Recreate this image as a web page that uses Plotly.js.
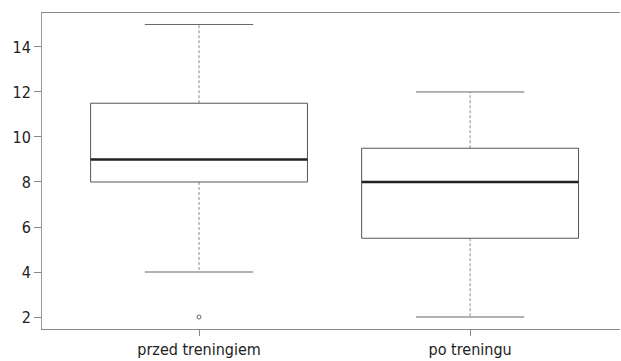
<!DOCTYPE html>
<html>
<head>
<meta charset="utf-8">
<script src="https://cdn.plot.ly/plotly-3.0.1.min.js"></script>
<style>html,body{margin:0;padding:0;background:#fff;}#chart{width:621px;height:361px;}</style>
</head>
<body>
<div id="chart"></div>
<script>
// Data
var categories = ['przed treningiem', 'po treningu'];
var lowerWhisker = [4, 2];
var q1 = [8, 5.5];
var median = [9, 8];
var q3 = [11.5, 9.5];
var upperWhisker = [15, 12];
var outliers = [[2], []];
var yTicks = [2, 4, 6, 8, 10, 12, 14];

var half = 0.4, capHalf = 0.2;
var positions = categories.map(function (c, i) { return i + 1; });

var boxX = [], boxY = [], medX = [], medY = [], whX = [], whY = [], capX = [], capY = [], outX = [], outY = [];
positions.forEach(function (p, i) {
  boxX.push(p - half, p + half, p + half, p - half, p - half, null);
  boxY.push(q1[i], q1[i], q3[i], q3[i], q1[i], null);
  medX.push(p - half, p + half, null);
  medY.push(median[i], median[i], null);
  whX.push(p, p, null, p, p, null);
  whY.push(q3[i], upperWhisker[i], null, q1[i], lowerWhisker[i], null);
  capX.push(p - capHalf, p + capHalf, null, p - capHalf, p + capHalf, null);
  capY.push(upperWhisker[i], upperWhisker[i], null, lowerWhisker[i], lowerWhisker[i], null);
  outliers[i].forEach(function (v) { outX.push(p); outY.push(v); });
});

var traces = [
  {x: whX, y: whY, mode: 'lines', line: {color: '#8a8a8a', width: 1, dash: '3px,2px'}, hoverinfo: 'skip'},
  {x: capX, y: capY, mode: 'lines', line: {color: '#666', width: 1}, hoverinfo: 'skip'},
  {x: boxX, y: boxY, mode: 'lines', line: {color: '#555', width: 1}, hoverinfo: 'skip'},
  {x: medX, y: medY, mode: 'lines', line: {color: '#222', width: 2.5}, hoverinfo: 'skip'},
  {x: outX, y: outY, mode: 'markers', marker: {symbol: 'circle-open', size: 4, color: '#666', line: {width: 1, color: '#666'}}, hoverinfo: 'skip'}
];

var font = {family: '"DejaVu Sans Condensed", "Liberation Sans Narrow", sans-serif', size: 16, color: '#222'};

var layout = {
  width: 621, height: 361,
  margin: {l: 42, r: 1, t: 13, b: 32, pad: 0},
  paper_bgcolor: '#fff', plot_bgcolor: '#fff',
  showlegend: false,
  font: font,
  xaxis: {
    range: [0.4207, 2.553], tickmode: 'array', tickvals: positions, ticktext: categories,
    showgrid: false, zeroline: false, showline: true, mirror: true, linecolor: '#888', linewidth: 1,
    ticks: 'outside', ticklen: 6, tickcolor: '#888', tickfont: font
  },
  yaxis: {
    range: [1.467, 15.51], tickmode: 'array', tickvals: yTicks,
    showgrid: false, zeroline: false, showline: true, mirror: false, linecolor: '#999', linewidth: 1,
    ticks: 'outside', ticklen: 7, tickcolor: '#888', tickfont: font
  }
};

Plotly.newPlot('chart', traces, layout, {staticPlot: true, displayModeBar: false});
</script>
</body>
</html>
